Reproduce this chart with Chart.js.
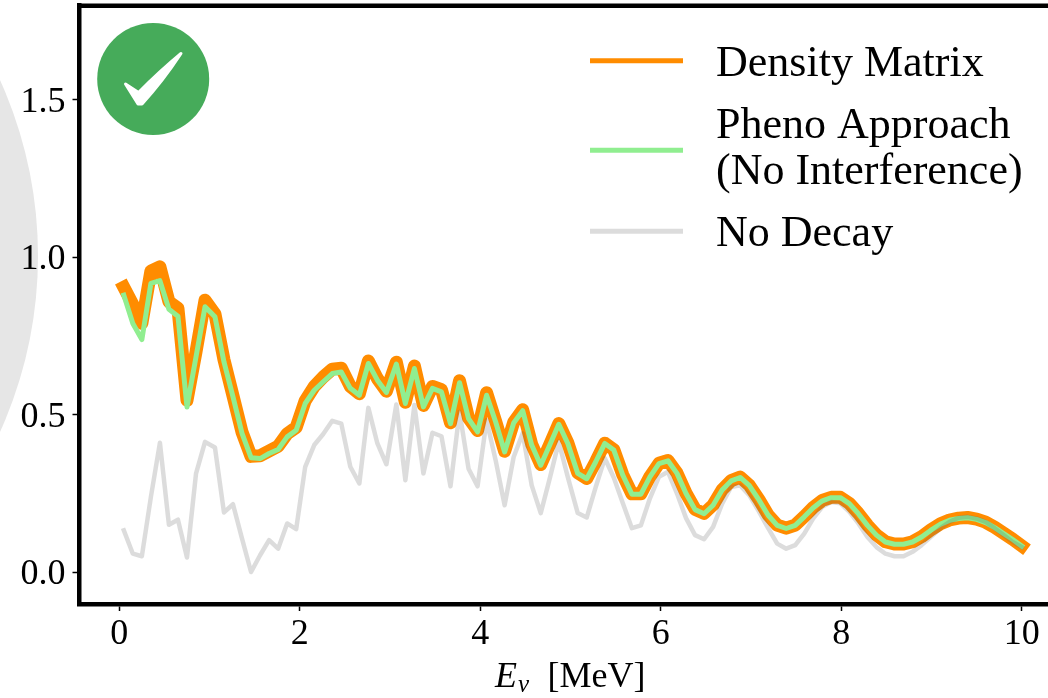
<!DOCTYPE html>
<html>
<head>
<meta charset="utf-8">
<title>Density matrix vs pheno approach</title>
<script src="https://cdn.jsdelivr.net/npm/chart.js@4"></script>
<style>
  html, body { margin: 0; padding: 0; background: #fff; overflow: hidden; }
  canvas { display: block; }
</style>
</head>
<body>
<canvas id="spectrum" width="1048" height="698"></canvas>
<script>
// neutrino energies in MeV
const energies = [
  0.05, 0.15, 0.25, 0.35, 0.45, 0.55, 0.65, 0.75, 0.85, 0.95,
  1.06, 1.16, 1.26, 1.36, 1.46, 1.56, 1.66, 1.76, 1.86, 1.96,
  2.06, 2.16, 2.26, 2.36, 2.46, 2.56, 2.66, 2.76, 2.86, 2.96,
  3.07, 3.17, 3.27, 3.37, 3.47, 3.57, 3.67, 3.77, 3.87, 3.97,
  4.07, 4.17, 4.27, 4.37, 4.47, 4.57, 4.67, 4.77, 4.87, 4.97,
  5.08, 5.18, 5.28, 5.38, 5.48, 5.58, 5.68, 5.78, 5.88, 5.98,
  6.08, 6.18, 6.28, 6.38, 6.48, 6.58, 6.68, 6.78, 6.88, 6.98,
  7.09, 7.19, 7.29, 7.39, 7.49, 7.59, 7.69, 7.79, 7.89, 7.99,
  8.09, 8.19, 8.29, 8.39, 8.49, 8.59, 8.69, 8.79, 8.89, 8.99,
  9.10, 9.20, 9.30, 9.40, 9.50, 9.60, 9.70, 9.80, 9.90, 10.0
];

const densityMatrix = [
  0.905, 0.850, 0.790, 0.956, 0.970, 0.859, 0.838, 0.546, 0.700, 0.864,
  0.820, 0.675, 0.560, 0.445, 0.368, 0.370, 0.385, 0.400, 0.440, 0.460,
  0.545, 0.590, 0.620, 0.645, 0.648, 0.590, 0.567, 0.671, 0.615, 0.575,
  0.667, 0.540, 0.655, 0.530, 0.590, 0.580, 0.475, 0.608, 0.490, 0.450,
  0.570, 0.480, 0.384, 0.476, 0.516, 0.406, 0.342, 0.406, 0.472, 0.411,
  0.316, 0.298, 0.352, 0.410, 0.389, 0.309, 0.249, 0.249, 0.304, 0.346,
  0.355, 0.315, 0.251, 0.200, 0.187, 0.214, 0.262, 0.291, 0.302, 0.277,
  0.230, 0.182, 0.150, 0.140, 0.150, 0.177, 0.206, 0.228, 0.238, 0.238,
  0.219, 0.187, 0.150, 0.119, 0.097, 0.090, 0.090, 0.097, 0.113, 0.134,
  0.154, 0.166, 0.172, 0.174, 0.169, 0.159, 0.143, 0.124, 0.105, 0.084
];

const phenoApproach = [
  0.880, 0.790, 0.739, 0.917, 0.926, 0.835, 0.813, 0.525, 0.684, 0.843,
  0.811, 0.668, 0.557, 0.441, 0.364, 0.361, 0.377, 0.390, 0.430, 0.451,
  0.536, 0.578, 0.605, 0.631, 0.636, 0.584, 0.562, 0.663, 0.610, 0.571,
  0.661, 0.536, 0.647, 0.525, 0.584, 0.573, 0.472, 0.602, 0.488, 0.446,
  0.562, 0.478, 0.382, 0.474, 0.513, 0.404, 0.340, 0.404, 0.470, 0.409,
  0.314, 0.297, 0.351, 0.409, 0.388, 0.308, 0.248, 0.248, 0.303, 0.345,
  0.354, 0.314, 0.250, 0.199, 0.186, 0.213, 0.261, 0.290, 0.301, 0.276,
  0.229, 0.181, 0.149, 0.139, 0.149, 0.176, 0.205, 0.227, 0.237, 0.237,
  0.218, 0.186, 0.149, 0.118, 0.096, 0.089, 0.089, 0.096, 0.112, 0.133,
  0.153, 0.165, 0.171, 0.173, 0.168, 0.158, 0.142, 0.123, 0.104, 0.083
];

const noDecay = [
  0.133, 0.059, 0.051, 0.239, 0.411, 0.151, 0.167, 0.047, 0.313, 0.414,
  0.396, 0.190, 0.216, 0.107, 0.001, 0.054, 0.102, 0.075, 0.155, 0.137,
  0.335, 0.404, 0.439, 0.481, 0.472, 0.335, 0.282, 0.522, 0.409, 0.343,
  0.533, 0.292, 0.531, 0.314, 0.443, 0.432, 0.273, 0.509, 0.329, 0.273,
  0.483, 0.356, 0.213, 0.366, 0.441, 0.276, 0.188, 0.298, 0.414, 0.302,
  0.188, 0.174, 0.271, 0.362, 0.300, 0.219, 0.140, 0.149, 0.235, 0.303,
  0.319, 0.250, 0.172, 0.118, 0.105, 0.144, 0.218, 0.271, 0.276, 0.245,
  0.192, 0.140, 0.091, 0.075, 0.086, 0.123, 0.171, 0.208, 0.223, 0.219,
  0.192, 0.155, 0.112, 0.080, 0.059, 0.051, 0.051, 0.065, 0.086, 0.112,
  0.140, 0.160, 0.173, 0.176, 0.171, 0.160, 0.140, 0.118, 0.096, 0.080
];

const xTicks = [0, 2, 4, 6, 8, 10];
const yTicks = [0, 0.5, 1, 1.5];

const SERIF = '"Liberation Serif", "Times New Roman", serif';
const ORANGE = '#ff8c00';
const GREEN = '#90ee90';
const GREY = 'rgba(90, 90, 90, 0.21)';

function toPoints(ys) {
  return ys.map((y, i) => ({ x: energies[i], y: y }));
}

// big grey disc behind the axes, cut off by the left page edge
const backdrop = {
  id: 'backdrop',
  beforeDraw(chart) {
    const ctx = chart.ctx;
    ctx.save();
    ctx.fillStyle = '#fff';
    ctx.fillRect(0, 0, chart.width, chart.height);
    ctx.fillStyle = '#e6e6e6';
    ctx.beginPath();
    ctx.arc(-388.6, 256, 426.6, 0, Math.PI * 2);
    ctx.fill();
    ctx.restore();
  },
  beforeDatasetsDraw(chart) {
    const ctx = chart.ctx;
    ctx.save();
    // check badge
    ctx.fillStyle = '#46ab5a';
    ctx.beginPath();
    ctx.arc(153.2, 79, 56, 0, Math.PI * 2);
    ctx.fill();
    ctx.fillStyle = '#fff';
    ctx.strokeStyle = '#fff';
    ctx.lineJoin = 'round';
    ctx.lineWidth = 3;
    ctx.beginPath();
    ctx.moveTo(125.5, 84);
    ctx.lineTo(138.5, 92.5);
    ctx.quadraticCurveTo(160, 71, 181, 53.5);
    ctx.quadraticCurveTo(163, 81, 142, 104);
    ctx.lineTo(138, 104);
    ctx.closePath();
    ctx.fill();
    ctx.stroke();
    ctx.restore();
  },
  afterDraw(chart) {
    const ctx = chart.ctx;
    const area = chart.chartArea;
    ctx.save();
    // top spine
    ctx.strokeStyle = '#000';
    ctx.lineWidth = 4.5;
    ctx.beginPath();
    ctx.moveTo(area.left - 2.25, area.top);
    ctx.lineTo(area.right, area.top);
    ctx.stroke();

    // x axis title with the subscript
    ctx.fillStyle = '#000';
    ctx.textBaseline = 'alphabetic';
    ctx.textAlign = 'left';
    ctx.font = 'italic 36px ' + SERIF;
    ctx.fillText('E', 495, 686.7);
    ctx.font = 'italic 25px ' + SERIF;
    ctx.fillText('ν', 518, 692);
    ctx.font = '36px ' + SERIF;
    ctx.fillText('[MeV]', 547.5, 686.7);

    // legend
    const rows = [
      { color: ORANGE, y: 60.7, lines: [['Density Matrix', 75.7]] },
      { color: GREEN, y: 150.3, lines: [['Pheno Approach', 138], ['(No Interference)', 184]] },
      { color: GREY, y: 231.3, lines: [['No Decay', 246]] }
    ];
    ctx.font = '44px ' + SERIF;
    rows.forEach(row => {
      ctx.strokeStyle = row.color;
      ctx.lineWidth = 5;
      ctx.beginPath();
      ctx.moveTo(590, row.y);
      ctx.lineTo(683, row.y);
      ctx.stroke();
      row.lines.forEach(l => ctx.fillText(l[0], 716, l[1]));
    });
    ctx.restore();
  }
};

new Chart(document.getElementById('spectrum'), {
  type: 'line',
  plugins: [backdrop],
  data: {
    datasets: [
      { label: 'Density Matrix', data: toPoints(densityMatrix), borderColor: ORANGE, borderWidth: 13, order: 3 },
      { label: 'Pheno Approach (No Interference)', data: toPoints(phenoApproach), borderColor: GREEN, borderWidth: 5, order: 2 },
      { label: 'No Decay', data: toPoints(noDecay), borderColor: GREY, borderWidth: 4.5, order: 1 }
    ]
  },
  options: {
    responsive: false,
    animation: false,
    layout: { padding: { top: 5.7, right: 0, bottom: 0, left: 0 } },
    elements: {
      point: { radius: 0 },
      line: { tension: 0, borderJoinStyle: 'round', borderCapStyle: 'square' }
    },
    plugins: {
      legend: { display: false },
      title: { display: false },
      tooltip: { enabled: false }
    },
    scales: {
      x: {
        type: 'linear',
        min: -0.441,
        max: 10.291,
        afterFit(scale) {
          scale.height = 94;
          scale.paddingLeft = 0;
          scale.paddingRight = 0;
        },
        afterBuildTicks(scale) { scale.ticks = xTicks.map(v => ({ value: v })); },
        border: { display: true, color: '#000', width: 4.5 },
        grid: { drawOnChartArea: false, drawTicks: true, tickLength: 7, tickColor: '#000', tickWidth: 1.5 },
        ticks: {
          color: '#000',
          maxRotation: 0,
          padding: 2,
          font: { family: SERIF, size: 36 }
        }
      },
      y: {
        type: 'linear',
        min: -0.1007,
        max: 1.799,
        afterFit(scale) {
          scale.width = 79.5;
          scale.paddingTop = 0;
          scale.paddingBottom = 0;
        },
        afterBuildTicks(scale) { scale.ticks = yTicks.map(v => ({ value: v })); },
        border: { display: true, color: '#000', width: 4.5 },
        grid: { drawOnChartArea: false, drawTicks: true, tickLength: 7, tickColor: '#000', tickWidth: 1.5 },
        ticks: {
          color: '#000',
          padding: 7,
          labelOffset: 2.5,
          font: { family: SERIF, size: 36 },
          callback: v => v.toFixed(1)
        }
      }
    }
  }
});
</script>
</body>
</html>
